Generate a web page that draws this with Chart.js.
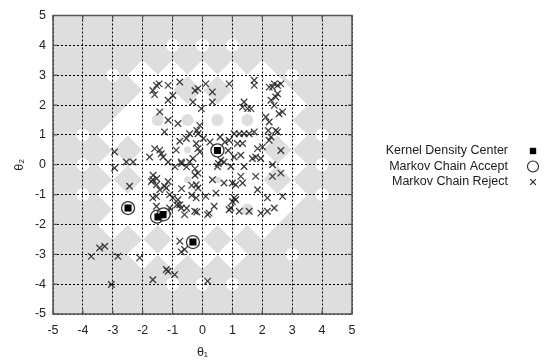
<!DOCTYPE html>
<html>
<head>
<meta charset="utf-8">
<script src="https://cdn.jsdelivr.net/npm/chart.js@4"></script>
<style>
  html, body { margin: 0; padding: 0; background: #fff; }
  #wrap { width: 550px; height: 361px; }
</style>
</head>
<body>
<div id="wrap"><canvas id="chart"></canvas></div>
<script>
// ---- data ----
const tickValues = [-5, -4, -3, -2, -1, 0, 1, 2, 3, 4, 5];

const kernelCenters = [[-2.49, -1.45], [-1.49, -1.75], [-1.32, -1.67], [-0.32, -2.59], [0.50, 0.48]];
const acceptPoints = [[-2.49, -1.45], [-1.52, -1.74], [-1.30, -1.66], [-0.32, -2.59], [0.50, 0.48]];

const rejectPoints = [
  // upper left
  [-1.54, 2.66], [-1.66, 2.49], [-1.60, 2.35], [-1.45, 2.71], [-1.15, 2.66], [-0.76, 2.77],
  [-0.99, 2.32], [-1.15, 2.16], [-0.32, 2.10], [-0.15, 2.55], [-0.04, 1.88], [-1.43, 1.77],
  [-1.15, 1.49], [-0.82, 1.38], [-1.27, 1.10], [-0.76, 0.79], [-0.54, 0.88], [-0.43, 1.04],
  [-0.21, 0.71], [-0.09, 1.32], [-0.15, 1.04], [-2.94, 0.43], [-2.55, 0.09], [-2.32, 0.09],
  [-1.77, 0.26], [-1.60, 0.54], [-1.43, 0.49], [-1.38, 0.37], [-1.32, 0.26], [-1.15, 0.09],
  [-0.88, 0.49], [-0.71, 0.09], [-0.43, 0.09], [-0.32, 0.21], [-0.15, 0.54], [-0.09, 0.43],
  [-0.25, 2.49], [-0.19, 1.15], [-0.70, 0.04], [-0.53, -0.07], [-0.25, -0.13],
  // upper right
  [0.11, 2.71], [0.33, 2.44], [0.33, 2.10], [0.89, 2.71], [1.73, 2.83], [1.73, 2.66],
  [2.23, 2.60], [2.34, 2.60], [2.40, 2.71], [2.51, 2.66], [2.62, 2.71], [2.51, 2.38],
  [2.45, 2.27], [2.29, 2.16], [2.40, 1.99], [1.39, 2.10], [1.34, 1.93], [1.51, 1.88],
  [1.62, 1.88], [2.12, 1.60], [2.23, 1.43], [2.56, 1.71], [2.68, 1.77], [2.45, 1.15],
  [2.51, 1.10], [2.23, 0.82], [2.29, 0.93], [2.62, 0.48], [1.06, 1.04], [1.23, 1.04],
  [1.39, 1.04], [1.56, 1.04], [1.73, 1.10], [0.89, 0.82], [1.17, 0.71], [1.34, 0.71],
  [1.84, 0.54], [2.01, 0.60], [0.61, 0.15], [0.72, 0.09], [1.06, 0.26], [1.28, 0.32],
  [1.67, 0.21], [1.78, 0.26], [1.95, 0.21], [0.03, 0.88], [0.25, 0.76], [0.53, 0.04],
  [0.86, 0.48], [0.59, 0.93], [0.75, 0.76], [2.20, 1.15],
  // lower right
  [0.50, -0.06], [0.95, -0.06], [1.39, -0.06], [2.34, 0.00], [0.33, -0.50], [0.72, -0.61],
  [1.00, -0.61], [1.11, -0.67], [1.34, -0.61], [1.28, -0.39], [1.78, -0.39], [2.34, -0.39],
  [2.62, -0.28], [1.84, -0.84], [0.11, -1.06], [0.45, -0.95], [1.06, -1.11], [1.11, -1.17],
  [1.00, -1.23], [2.17, -1.11], [2.68, -1.06], [0.39, -1.39], [0.22, -1.62], [0.17, -1.67],
  [0.89, -1.51], [0.95, -1.45], [1.23, -1.56], [1.56, -1.56], [1.95, -1.62], [2.17, -1.56],
  [2.40, -1.45], [0.17, -3.90], [-0.25, -0.35], [-0.15, -0.28],
  // lower left
  [-2.94, -0.11], [-2.44, -0.72], [-1.71, -0.56], [-1.66, -0.50], [-1.54, -0.67], [-1.43, -0.84],
  [-1.21, -0.78], [-1.15, -0.56], [-1.27, -0.72], [-1.66, -1.11], [-1.54, -1.06], [-1.54, -1.39],
  [-1.10, -1.00], [-0.99, -1.11], [-0.82, -1.17], [-0.76, -1.34], [-0.71, -1.45], [-0.60, -1.67],
  [-1.10, -1.45], [-1.15, -1.56], [-0.21, -0.67], [-0.15, -0.78], [-0.21, -1.11], [-0.26, -1.56],
  [-0.76, -2.56], [-0.60, -2.84], [-0.71, -2.92], [-1.21, -3.51], [-1.15, -3.57], [-0.93, -3.68],
  [-1.66, -3.85], [-2.10, -3.12], [-2.83, -3.07], [-3.72, -3.07], [-3.44, -2.79], [-3.27, -2.73],
  [-3.05, -4.01], [-1.65, -0.35], [-1.53, -0.46], [-0.92, -0.07], [-0.70, -0.80], [-0.36, -0.69],
  [-0.36, -1.02], [-0.86, -1.35], [-0.53, -1.46], [-0.19, -1.58]
];

// background shading on a half-step lattice, rows from y=5 down to y=-5
// g = grey, w = white, o = grey with white dot, c = white with grey dot, s = white with small grey dot
const shadeRows = [
  'ggggggggggg',
  'gggggggggg',
  'ggggooogggg',
  'gggggggggg',
  'ggowwwwwogg',
  'gggwggwwgg',
  'gggwwwwwwgg',
  'ggwccccwgg',
  'gowwwwwwwog',
  'gggwswwggg',
  'gowwwwwwwog',
  'gggwsswggg',
  'gowwwwwwwog',
  'ggwwwwcwgg',
  'ggwwwwwwggg',
  'ggggwggggg',
  'gggwwwwgogg',
  'gggggggggg',
  'ggggooogggg',
  'gggggggggg',
  'ggggggggggg'
];

// ---- build lattice datasets ----
const GREY = '#dedede';
const whiteCells = [], whiteDots = [], greyDots = [], greyDotSizes = [];
shadeRows.forEach((row, r) => {
  const y = 5 - r * 0.5;
  const x0 = (r % 2 === 0) ? -5 : -4.5;
  row.split('').forEach((code, i) => {
    const p = {x: x0 + i, y: y};
    if (code === 'w' || code === 'c' || code === 's') whiteCells.push(p);
    if (code === 'o') whiteDots.push(p);
    if (code === 'c' || code === 's') {
      greyDots.push(p);
      greyDotSizes.push(code === 'c' ? 6 : 3.5);
    }
  });
});

const toPts = arr => arr.map(p => ({x: p[0], y: p[1]}));

// ---- plugins ----
const frame = {
  id: 'frame',
  beforeDraw(chart) {
    const a = chart.chartArea, ctx = chart.ctx;
    ctx.save();
    ctx.fillStyle = GREY;
    ctx.fillRect(a.left, a.top, a.right - a.left, a.bottom - a.top);
    ctx.restore();
  },
  afterDraw(chart) {
    const a = chart.chartArea, ctx = chart.ctx;
    const sx = chart.scales.x, sy = chart.scales.y;
    ctx.save();
    ctx.strokeStyle = '#555';
    ctx.lineWidth = 1.5;
    ctx.strokeRect(a.left, a.top, a.right - a.left, a.bottom - a.top);
    // small inward tick marks
    ctx.lineWidth = 1.2;
    ctx.beginPath();
    tickValues.forEach(v => {
      const px = sx.getPixelForValue(v), py = sy.getPixelForValue(v);
      ctx.moveTo(px, a.bottom); ctx.lineTo(px, a.bottom - 4);
      ctx.moveTo(px, a.top); ctx.lineTo(px, a.top + 4);
      ctx.moveTo(a.left, py); ctx.lineTo(a.left + 4, py);
      ctx.moveTo(a.right, py); ctx.lineTo(a.right - 4, py);
    });
    ctx.stroke();

    // legend on the right: text then symbol
    const sizes = [4.5, 5.5, 4];
    ctx.font = '12.5px "Liberation Sans", Arial, sans-serif';
    ctx.textAlign = 'right';
    ctx.textBaseline = 'middle';
    chart.data.datasets.slice(0, 3).forEach((ds, i) => {
      const y = 151 + i * 15.5;
      ctx.fillStyle = '#1a1a1a';
      ctx.fillText(ds.label, 508, y);
      ctx.fillStyle = i === 1 ? '#fff' : '#000';
      ctx.strokeStyle = '#222';
      ctx.lineWidth = 1.1;
      Chart.helpers.drawPoint(ctx, {pointStyle: ds.pointStyle, radius: sizes[i], rotation: 0, borderWidth: i === 0 ? 0 : 1.1}, 533, y);
    });
    ctx.restore();
  }
};

const tickFont = {family: '"Liberation Sans", Arial, sans-serif', size: 12.5};

new Chart(document.getElementById('chart'), {
  type: 'scatter',
  data: {
    datasets: [
      {
        label: 'Kernel Density Center',
        data: toPts(kernelCenters),
        pointStyle: 'rect',
        pointRadius: 5,
        backgroundColor: '#000',
        borderColor: '#000',
        borderWidth: 0
      },
      {
        label: 'Markov Chain Accept',
        data: toPts(acceptPoints),
        pointStyle: 'circle',
        pointRadius: 6.5,
        backgroundColor: 'rgba(255,255,255,0.75)',
        borderColor: '#333',
        borderWidth: 1.3
      },
      {
        label: 'Markov Chain Reject',
        data: toPts(rejectPoints),
        pointStyle: 'crossRot',
        pointRadius: 4.6,
        borderColor: 'rgba(30,30,30,0.85)',
        borderWidth: 1.3
      },
      {
        label: 'grey dots',
        data: greyDots,
        pointStyle: 'circle',
        pointRadius: greyDotSizes,
        backgroundColor: GREY,
        borderWidth: 0
      },
      {
        label: 'white dots',
        data: whiteDots,
        pointStyle: 'circle',
        pointRadius: 6.5,
        backgroundColor: '#fff',
        borderWidth: 0
      },
      {
        label: 'white cells',
        data: whiteCells,
        pointStyle: 'rectRot',
        pointRadius: 15.5,
        backgroundColor: '#fff',
        borderWidth: 0
      }
    ]
  },
  options: {
    responsive: true,
    maintainAspectRatio: false,
    animation: false,
    events: [],
    layout: {padding: {left: 0, top: 15, right: 198, bottom: 0}},
    plugins: {
      legend: {display: false},
      tooltip: {enabled: false}
    },
    scales: {
      x: {
        type: 'linear',
        min: -5, max: 5,
        afterFit: s => { s.height = 47; },
        afterBuildTicks: s => { s.ticks = tickValues.map(v => ({value: v})); },
        ticks: {font: tickFont, color: '#222', padding: 9},
        grid: {color: '#000', lineWidth: 1, drawTicks: false, z: 1},
        border: {display: false, dash: [2, 2]},
        title: {display: true, text: 'θ₁', font: tickFont, color: '#222', padding: {top: 0, bottom: 1}}
      },
      y: {
        type: 'linear',
        min: -5, max: 5,
        afterFit: s => { s.width = 53; },
        afterBuildTicks: s => { s.ticks = tickValues.map(v => ({value: v})); },
        ticks: {font: tickFont, color: '#222', padding: 7},
        grid: {color: '#000', lineWidth: 1, drawTicks: false, z: 1},
        border: {display: false, dash: [2, 2]},
        title: {display: true, text: 'θ₂', font: tickFont, color: '#222', padding: {top: 12, bottom: 0}}
      }
    }
  },
  plugins: [frame]
});
</script>
</body>
</html>
